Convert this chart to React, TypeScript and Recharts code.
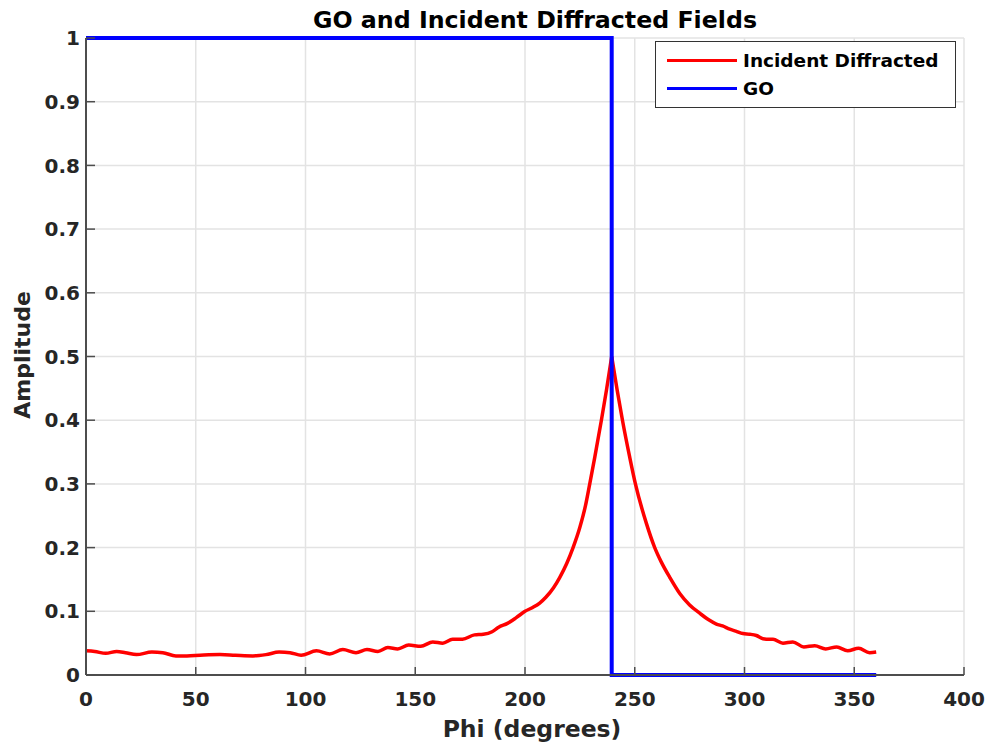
import { CartesianGrid, Legend, Line, LineChart, XAxis, YAxis } from "recharts";

// Incident diffracted field (red), split at the cusp
const phiRise = [
  0, 4, 9, 14, 18, 23, 30, 35, 41, 46, 52, 61, 68, 76, 82, 88, 93, 98, 105, 111, 117, 123, 128, 133,
  137.5, 142, 147, 152.5, 158, 162.5, 167, 171.5, 177, 181, 185, 188, 192, 196, 200, 203.5, 206.7, 209.5,
  213, 215.8, 219, 221.9, 225, 227.5, 229.5, 231.8, 234.8, 237.1, 239.5
];
const ampRise = [
  0.038, 0.037, 0.034, 0.037, 0.035, 0.032, 0.036, 0.035, 0.03, 0.03, 0.031, 0.032, 0.031, 0.03, 0.032,
  0.036, 0.035, 0.031, 0.038, 0.033, 0.04, 0.035, 0.04, 0.037, 0.043, 0.041, 0.047, 0.045, 0.052, 0.05,
  0.056, 0.056, 0.063, 0.064, 0.068, 0.075, 0.081, 0.09, 0.1, 0.106, 0.113, 0.122, 0.137, 0.153, 0.175,
  0.2, 0.232, 0.265, 0.3, 0.342, 0.4, 0.447, 0.5
];
const phiFall = [
  239.5, 242, 244.4, 247.7, 250.3, 255.3, 259.1, 262, 266, 270.5, 275, 279.6, 283.5, 287.2, 290, 293.3,
  296, 299.3, 302.4, 305.4, 308.4, 311.5, 313, 317.5, 322, 327, 332, 337, 342, 347, 352, 357, 360
];
const ampFall = [
  0.5, 0.447, 0.4, 0.342, 0.3, 0.238, 0.2, 0.178, 0.153, 0.128, 0.11, 0.097, 0.087, 0.08, 0.077, 0.072,
  0.069, 0.065, 0.064, 0.062, 0.057, 0.056, 0.056, 0.05, 0.052, 0.044, 0.046, 0.041, 0.044, 0.038, 0.042,
  0.035, 0.036
];

// GO field (blue)
const phiGO = [0, 239.5, 239.5, 360];
const ampGO = [1, 1, 0, 0];

const xTicks = [0, 50, 100, 150, 200, 250, 300, 350, 400];
const yTicks = [0, 0.1, 0.2, 0.3, 0.4, 0.5, 0.6, 0.7, 0.8, 0.9, 1];
const legendOrder = ["Incident Diffracted", "GO"];

const riseData = phiRise.map((phi, i) => ({ phi, amp: ampRise[i] }));
const fallData = phiFall.map((phi, i) => ({ phi, amp: ampFall[i] }));
const goData = phiGO.map((phi, i) => ({ phi, amp: ampGO[i] }));

const FONT = "'DejaVu Sans', Verdana, sans-serif";
const AXIS = "#4d4d4d";
const TEXT = "#262626";
const X_MARGIN = 17;
const Y_MARGIN = 6;

function BottomTick({ x, y, payload }: any) {
  const base = y - X_MARGIN;
  return (
    <g>
      <line x1={x} x2={x} y1={base} y2={base - 8} stroke={AXIS} strokeWidth={1.5} />
      <text x={x} y={y} dy="0.71em" textAnchor="middle" fill={TEXT} fontSize={20} fontWeight="bold" fontFamily={FONT}>
        {payload.value}
      </text>
    </g>
  );
}

function LeftTick({ x, y, payload }: any) {
  const base = x + Y_MARGIN;
  return (
    <g>
      <line x1={base} x2={base + 9} y1={y} y2={y} stroke={AXIS} strokeWidth={1.5} />
      <text x={x} y={y} dy="0.355em" textAnchor="end" fill={TEXT} fontSize={20} fontWeight="bold" fontFamily={FONT}>
        {String(payload.value)}
      </text>
    </g>
  );
}

function TopTick({ x, y }: any) {
  return <line x1={x} x2={x} y1={y} y2={y + 8} stroke={AXIS} strokeWidth={1.5} />;
}

function RightTick({ x, y }: any) {
  return <line x1={x - 9} x2={x} y1={y} y2={y} stroke={AXIS} strokeWidth={1.5} />;
}

function XLabel() {
  return (
    <text x={532} y={737} textAnchor="middle" fill={TEXT} fontSize={23.5} fontWeight="bold" fontFamily={FONT}>
      Phi (degrees)
    </text>
  );
}

function YLabel() {
  return (
    <text
      x={30}
      y={355}
      transform="rotate(-90, 30, 355)"
      textAnchor="middle"
      fill={TEXT}
      fontSize={22}
      fontWeight="bold"
      fontFamily={FONT}
    >
      Amplitude
    </text>
  );
}

function LegendBox({ payload }: any) {
  const items = legendOrder
    .map((name) => (payload ?? []).find((p: any) => p.value === name))
    .filter(Boolean);
  return (
    <div
      style={{
        border: "1.5px solid #333",
        background: "#fff",
        padding: "4px 10px 5px 11px",
        fontFamily: FONT,
        fontWeight: "bold",
        fontSize: 18.5,
        color: "#000"
      }}
    >
      {items.map((p: any) => (
        <div key={p.value} style={{ display: "flex", alignItems: "center", height: 28 }}>
          <span style={{ display: "inline-block", width: 70, height: 3, background: p.color, marginRight: 6 }} />
          <span>{p.value}</span>
        </div>
      ))}
    </div>
  );
}

export default function App() {
  return (
    <div style={{ position: "absolute", left: 0, top: 0, width: 992, height: 746, background: "#fff" }}>
      <div
        style={{
          position: "absolute",
          left: 95,
          width: 880,
          top: 6,
          textAlign: "center",
          fontFamily: FONT,
          fontWeight: "bold",
          fontSize: 23.7,
          lineHeight: "28px",
          color: "#000"
        }}
      >
        GO and Incident Diffracted Fields
      </div>
      <LineChart width={992} height={746} margin={{ top: 38, right: 28, bottom: 0, left: 0 }}>
        <CartesianGrid stroke="#e3e3e3" strokeWidth={1.5} />
        <XAxis
          dataKey="phi"
          type="number"
          domain={[0, 400]}
          ticks={xTicks}
          height={71}
          tickSize={0}
          tickMargin={X_MARGIN}
          tick={<BottomTick />}
          axisLine={{ stroke: AXIS, strokeWidth: 2 }}
          label={<XLabel />}
        />
        <XAxis
          xAxisId="top"
          orientation="top"
          type="number"
          domain={[0, 400]}
          ticks={xTicks}
          height={0}
          tickSize={0}
          tickMargin={0}
          tick={<TopTick />}
          axisLine={{ stroke: AXIS, strokeWidth: 2 }}
        />
        <YAxis
          type="number"
          domain={[0, 1]}
          ticks={yTicks}
          width={86}
          tickSize={0}
          tickMargin={Y_MARGIN}
          tick={<LeftTick />}
          axisLine={{ stroke: AXIS, strokeWidth: 2 }}
          label={<YLabel />}
        />
        <YAxis
          yAxisId="right"
          orientation="right"
          type="number"
          domain={[0, 1]}
          ticks={yTicks}
          width={0}
          tickSize={0}
          tickMargin={0}
          tick={<RightTick />}
          axisLine={{ stroke: AXIS, strokeWidth: 2 }}
        />
        <Line
          data={riseData}
          dataKey="amp"
          name="Incident Diffracted"
          type="monotone"
          stroke="#ff0000"
          strokeWidth={3.5}
          dot={false}
          isAnimationActive={false}
        />
        <Line
          data={fallData}
          dataKey="amp"
          name="Incident Diffracted (fall)"
          legendType="none"
          type="monotone"
          stroke="#ff0000"
          strokeWidth={3.5}
          dot={false}
          isAnimationActive={false}
        />
        <Line
          data={goData}
          dataKey="amp"
          name="GO"
          type="linear"
          stroke="#0000ff"
          strokeWidth={4}
          dot={false}
          isAnimationActive={false}
        />
        <Legend
          layout="vertical"
          align="center"
          verticalAlign="middle"
          content={<LegendBox />}
          wrapperStyle={{ left: 655, top: 41, width: 301, height: "auto" }}
        />
      </LineChart>
    </div>
  );
}
